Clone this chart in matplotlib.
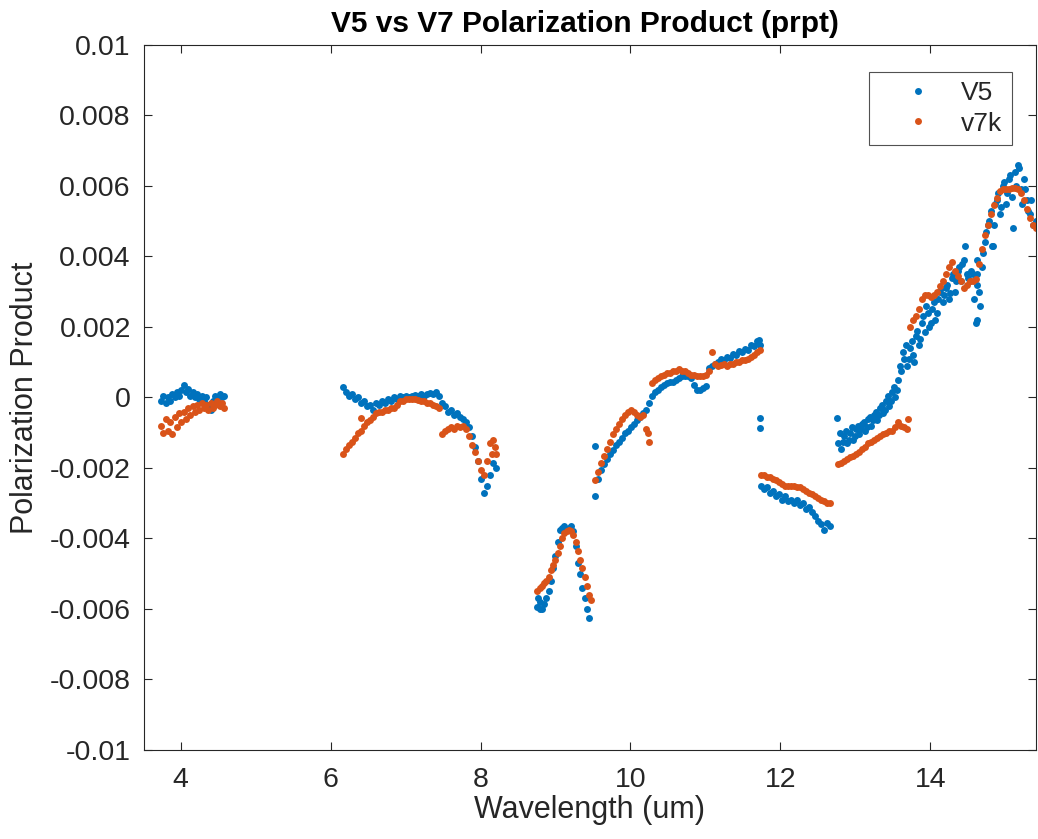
import numpy as np
import matplotlib
matplotlib.use('Agg')
import matplotlib.pyplot as plt

plt.rcParams['font.family'] = ['Liberation Sans', 'DejaVu Sans']

# polarization product values are stored in units of 1e-3
# --- band 1 (3.7 - 4.6 um)
wl_a = [3.74, 3.77, 3.80, 3.83, 3.86, 3.89, 3.92, 3.95, 3.98, 4.01, 4.04, 4.07, 4.10, 4.13, 4.16,
        4.19, 4.22, 4.25, 4.28, 4.31, 4.34, 4.37, 4.40, 4.43, 4.46, 4.49, 4.52, 4.55, 4.58]
v5_a = [-0.10, 0.05, -0.15, 0.00, -0.10, 0.10, 0.00, 0.15, 0.05, 0.20, 0.35, 0.15, 0.25, 0.05, 0.15,
        0.00, 0.10, -0.05, 0.05, -0.10, 0.00, -0.20, -0.35, -0.10, 0.05, -0.05, 0.10, 0.00, 0.05]
v7_a = [-0.80, -1.00, -0.60, -0.95, -0.70, -1.05, -0.55, -0.85, -0.45, -0.70, -0.40, -0.60, -0.30, -0.50, -0.25,
        -0.40, -0.20, -0.35, -0.15, -0.30, -0.20, -0.35, -0.15, -0.30, -0.20, -0.10, -0.25, -0.15, -0.30]

# --- band 2 (6.2 - 8.2 um)
wl_b = [6.17, 6.21, 6.25, 6.29, 6.33, 6.37, 6.41, 6.45, 6.49, 6.53, 6.57, 6.61, 6.65, 6.69, 6.73,
        6.77, 6.81, 6.85, 6.89, 6.93, 6.97, 7.01, 7.05, 7.09, 7.13, 7.17, 7.21, 7.25, 7.29, 7.33,
        7.37, 7.41, 7.45, 7.49, 7.53, 7.57, 7.61, 7.65, 7.69, 7.73, 7.77, 7.81, 7.85, 7.89, 7.93,
        7.97, 8.01, 8.05, 8.09, 8.13, 8.17, 8.21]
v5_b = [0.30, 0.15, 0.05, 0.10, -0.05, 0.00, -0.15, -0.10, -0.25, -0.20, -0.35, -0.15, -0.20, -0.10, -0.15,
        -0.05, -0.10, 0.00, -0.05, 0.05, 0.00, 0.05, 0.00, 0.05, 0.08, 0.05, 0.10, 0.05, 0.10, 0.12,
        0.10, 0.15, 0.05, -0.15, -0.25, -0.40, -0.35, -0.50, -0.45, -0.55, -0.60, -0.70, -0.85, -1.10, -1.40,
        -1.80, -2.30, -2.70, -2.50, -2.20, -1.85, -2.00]
v7_b = [-1.60, -1.45, -1.35, -1.25, -1.15, -1.00, -0.95, -0.80, -0.70, -0.65, -0.55, -0.45, -0.40, -0.40, -0.35,
        -0.35, -0.30, -0.30, -0.20, -0.10, -0.10, -0.05, -0.05, -0.05, -0.05, -0.07, -0.10, -0.10, -0.15, -0.15,
        -0.20, -0.25, -0.30, -1.05, -0.95, -0.90, -0.85, -0.90, -0.80, -0.85, -0.80, -0.90, -1.10, -1.35, -1.55,
        -1.80, -2.05, -2.20, -1.80, -1.30, -1.20, -1.60]

# --- band 3 (8.8 - 9.5 um)
wl_c = [8.76, 8.79, 8.82, 8.85, 8.88, 8.91, 8.94, 8.97, 9.00, 9.03, 9.06, 9.09, 9.12, 9.15, 9.18,
        9.21, 9.24, 9.27, 9.30, 9.33, 9.36, 9.39, 9.42, 9.45]
v5_c = [-5.95, -5.80, -6.00, -5.85, -5.70, -5.50, -5.20, -4.85, -4.50, -4.10, -3.75, -3.70, -3.65, -3.75, -3.70,
        -3.65, -3.80, -4.20, -4.70, -5.00, -5.40, -5.70, -6.00, -6.25]
v7_c = [-5.50, -5.40, -5.35, -5.25, -5.20, -5.10, -4.90, -4.75, -4.60, -4.40, -4.20, -4.00, -3.85, -3.80, -3.75,
        -3.80, -3.90, -4.10, -4.35, -4.60, -4.85, -5.10, -5.35, -5.60]

# --- band 4 (9.5 - 11.7 um)
wl_d = [9.53, 9.57, 9.61, 9.65, 9.69, 9.73, 9.77, 9.81, 9.85, 9.89, 9.93, 9.97,
        10.01, 10.05, 10.09, 10.13, 10.17, 10.21, 10.25, 10.29, 10.33, 10.37, 10.41, 10.45, 10.49,
        10.53, 10.57, 10.61, 10.65, 10.69, 10.73, 10.77, 10.81, 10.85, 10.89, 10.93, 10.97,
        11.01, 11.05, 11.09, 11.13, 11.17, 11.21, 11.25, 11.29, 11.33, 11.37, 11.41, 11.45, 11.49,
        11.53, 11.57, 11.61, 11.65, 11.69, 11.73]
v5_d = [-2.80, -2.30, -2.05, -1.90, -1.75, -1.60, -1.50, -1.35, -1.25, -1.15, -1.00, -0.95,
        -0.85, -0.75, -0.65, -0.55, -0.45, -0.35, -0.15, 0.05, 0.15, 0.20, 0.30, 0.35, 0.40,
        0.45, 0.45, 0.50, 0.55, 0.60, 0.60, 0.62, 0.55, 0.35, 0.22, 0.22, 0.28,
        0.33, 0.85, 0.90, 0.95, 1.00, 1.08, 1.05, 1.15, 1.12, 1.22, 1.20, 1.32, 1.28,
        1.38, 1.35, 1.48, 1.45, 1.60, 1.50]
v7_d = [-2.35, -2.10, -1.85, -1.65, -1.45, -1.25, -1.05, -0.90, -0.75, -0.60, -0.50, -0.40,
        -0.35, -0.40, -0.50, -0.55, -0.50, -0.90, -1.25, 0.40, 0.50, 0.55, 0.60, 0.65, 0.70,
        0.70, 0.75, 0.75, 0.80, 0.75, 0.75, 0.70, 0.65, 0.65, 0.60, 0.60, 0.62,
        0.65, 0.75, 1.30, 0.95, 0.90, 0.92, 0.95, 0.90, 0.95, 0.95, 1.00, 1.00, 1.05,
        1.05, 1.10, 1.15, 1.20, 1.30, 1.35]

# --- band 5 (11.7 - 12.7 um)
wl_e = [11.74, 11.78, 11.82, 11.86, 11.90, 11.94, 11.98, 12.02, 12.06, 12.10, 12.14, 12.18,
        12.22, 12.26, 12.30, 12.34, 12.38, 12.42, 12.46, 12.50, 12.54, 12.58, 12.62, 12.66]
v5_e = [-2.50, -2.60, -2.55, -2.70, -2.65, -2.80, -2.75, -2.90, -2.80, -2.95, -2.90, -3.00,
        -2.90, -3.05, -3.00, -3.15, -3.10, -3.25, -3.35, -3.50, -3.60, -3.75, -3.55, -3.65]
v7_e = [-2.20, -2.20, -2.25, -2.25, -2.30, -2.35, -2.40, -2.45, -2.50, -2.50, -2.50, -2.50,
        -2.55, -2.55, -2.60, -2.65, -2.70, -2.75, -2.80, -2.85, -2.90, -2.95, -3.00, -3.00]

# --- band 6 (12.8 - 15.4 um)
wl_f = [12.77, 12.81, 12.85, 12.89, 12.93, 12.97,
        13.01, 13.05, 13.09, 13.13, 13.17, 13.21, 13.25, 13.29, 13.33, 13.37, 13.41, 13.45, 13.49,
        13.53, 13.57, 13.61, 13.65, 13.69, 13.73, 13.77, 13.81, 13.85, 13.89, 13.93, 13.97,
        14.01, 14.05, 14.09, 14.13, 14.17, 14.21, 14.25, 14.29, 14.33, 14.37, 14.41, 14.45, 14.49,
        14.53, 14.57, 14.61, 14.65, 14.69, 14.73, 14.77, 14.81, 14.85, 14.89, 14.93, 14.97,
        15.01, 15.05, 15.09, 15.13, 15.17, 15.21, 15.25, 15.29, 15.33, 15.37, 15.41]
v5_f = [-1.30, -1.45, -1.10, -1.30, -1.00, -1.20,
        -0.90, -1.05, -0.75, -0.95, -0.60, -0.80, -0.50, -0.65, -0.30, -0.45, -0.10, -0.25, 0.15,
        0.00, 0.50, 0.75, 1.10, 0.90, 1.40, 1.20, 1.75, 1.50, 2.10, 1.85, 2.40,
        2.10, 2.70, 2.40, 3.00, 2.70, 3.10, 2.80, 3.40, 3.00, 3.60, 3.30, 3.90, 3.50,
        3.30, 3.50, 2.10, 3.00, 3.70, 4.40, 4.90, 5.30, 4.90, 5.60, 5.20, 6.00,
        5.50, 6.20, 5.70, 6.40, 6.60, 5.90, 6.20, 5.60, 5.20, 4.90, 5.00]
v7_f = [-1.90, -1.85, -1.80, -1.75, -1.70, -1.65,
        -1.60, -1.55, -1.45, -1.40, -1.30, -1.25, -1.20, -1.15, -1.10, -1.05, -1.00, -0.95, -0.95,
        -0.85, -0.70, -0.80, -0.85, -0.90, 2.00, 2.20, 2.30, 2.50, 2.80, 2.90, 2.90,
        2.85, 2.90, 3.00, 3.15, 3.30, 3.50, 3.70, 3.85, 3.60, 3.45, 3.30, 3.10, 3.20,
        3.30, 3.30, 3.35, 3.80, 4.20, 4.60, 4.90, 5.20, 5.45, 5.65, 5.85, 5.90,
        5.90, 5.90, 5.95, 5.95, 5.90, 5.80, 5.60, 5.35, 5.10, 4.90, 4.80]

# second set of V5 samples in band 6, where V5 is noisy
wl_f2 = [12.79, 12.83, 12.87, 12.91, 12.95, 12.99,
         13.03, 13.07, 13.11, 13.15, 13.19, 13.23, 13.27, 13.31, 13.35, 13.39, 13.43, 13.47, 13.51,
         13.55, 13.59, 13.63, 13.67, 13.71, 13.75, 13.79, 13.83, 13.87, 13.91, 13.95, 13.99,
         14.03, 14.07, 14.11, 14.15, 14.19, 14.23, 14.27, 14.31, 14.35, 14.39, 14.43, 14.47, 14.51,
         14.55, 14.59, 14.63, 14.67, 14.71, 14.75, 14.79, 14.83, 14.87, 14.91, 14.95, 14.99,
         15.03, 15.07, 15.11, 15.15, 15.19, 15.23, 15.27, 15.31, 15.35, 15.39]
v5_f2 = [-1.00, -1.25, -0.95, -1.20, -0.85, -1.10,
         -0.80, -0.90, -0.70, -0.85, -0.55, -0.65, -0.40, -0.50, -0.20, -0.35, 0.05, -0.10, 0.30,
         0.20, 0.90, 1.30, 1.50, 1.10, 1.60, 1.00, 1.90, 1.65, 2.30, 2.60, 2.00,
         2.50, 2.20, 2.80, 3.10, 2.90, 3.20, 2.95, 3.50, 3.30, 3.70, 3.80, 4.30, 3.40,
         3.60, 2.80, 3.90, 2.60, 4.10, 4.70, 5.00, 4.30, 5.50, 5.80, 5.40, 6.10,
         5.80, 6.30, 4.80, 6.00, 6.50, 5.50, 5.90, 5.30, 5.60, 4.90]

# isolated samples
v5_iso_wl = [8.77, 8.80, 9.53, 11.73, 11.73, 11.72, 12.76, 14.63, 14.63, 14.63, 14.84]
v5_iso = [-5.70, -6.00, -1.38, -0.58, -0.87, 1.63, -0.58, 3.50, 3.20, 2.20, 4.30]
v7_iso_wl = [6.40, 8.15, 8.19, 9.47, 10.24, 13.70]
v7_iso = [-0.58, -1.60, -1.40, -5.75, -1.00, -0.60]

v5_wl = np.concatenate([wl_a, wl_b, wl_c, wl_d, wl_e, wl_f, wl_f2, v5_iso_wl])
v5_pp = np.concatenate([v5_a, v5_b, v5_c, v5_d, v5_e, v5_f, v5_f2, v5_iso]) * 1e-3
v7_wl = np.concatenate([wl_a, wl_b, wl_c, wl_d, wl_e, wl_f, v7_iso_wl])
v7_pp = np.concatenate([v7_a, v7_b, v7_c, v7_d, v7_e, v7_f, v7_iso]) * 1e-3

blue = '#0072BD'
red = '#D95319'
dark = '#262626'

fig = plt.figure(figsize=(10.38, 8.39), dpi=100)
ax = fig.add_axes([0.1387, 0.1061, 0.8593, 0.8403])

ax.plot(v5_wl, v5_pp, 'o', color=blue, ms=5.0, mew=0, label='V5')
ax.plot(v7_wl, v7_pp, 'o', color=red, ms=5.0, mew=0, label='v7k')

ax.set_xlim(3.51, 15.41)
ax.set_ylim(-0.01, 0.01)
ax.set_xticks([4, 6, 8, 10, 12, 14])
yt = np.arange(-10, 11, 2) * 1e-3
ax.set_yticks(yt)
ax.set_yticklabels(['-0.01', '-0.008', '-0.006', '-0.004', '-0.002', '0',
                    '0.002', '0.004', '0.006', '0.008', '0.01'])

ax.tick_params(direction='in', length=6, width=0.8, colors=dark, labelsize=20.5,
               top=True, right=True)
ax.tick_params(axis='y', pad=9.5)
ax.tick_params(axis='x', pad=12)
for s in ax.spines.values():
    s.set_color(dark)
    s.set_linewidth(0.8)

ax.set_xlabel('Wavelength (um)', fontsize=22, color=dark, labelpad=2)
ax.set_ylabel('Polarization Product', fontsize=22, color=dark, labelpad=7)
ax.set_title('V5 vs V7 Polarization Product (prpt)', fontsize=21.5, fontweight='bold',
             color='black', pad=9, x=0.494)

leg = ax.legend(loc='upper right', bbox_to_anchor=(0.973, 0.962), borderaxespad=0,
                fontsize=19, fancybox=False, handlelength=3.0, handletextpad=0.15,
                borderpad=0.35, labelspacing=0.25, markerscale=1.0)
leg.get_frame().set_edgecolor(dark)
leg.get_frame().set_linewidth(0.8)
for t in leg.get_texts():
    t.set_color(dark)

fig.savefig('out.png', dpi=100)
